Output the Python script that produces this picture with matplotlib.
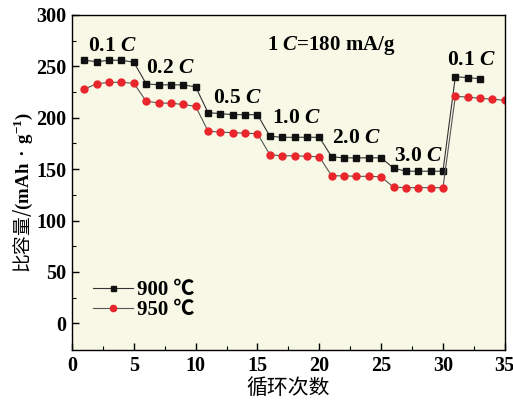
import matplotlib
matplotlib.use("Agg")
import matplotlib.pyplot as plt

plt.rcParams['mathtext.fontset'] = 'custom'
plt.rcParams['mathtext.rm'] = 'Liberation Serif:bold'
plt.rcParams['mathtext.bf'] = 'Liberation Serif:bold'
plt.rcParams['mathtext.it'] = 'Liberation Serif:bold:italic'

cycles_900 = list(range(1, 34))
cap_900 = [256, 254.5, 256, 256, 254,
           233, 232, 232, 232, 230,
           205, 204, 203, 203, 203,
           182, 181, 181, 181, 181,
           162, 161, 161, 161, 161,
           151, 148, 148, 148, 148,
           240, 239, 238]
cycles_950 = list(range(1, 36))
cap_950 = [228, 233, 234.5, 234.5, 233.5,
           216, 214.5, 214, 213, 211,
           187, 186, 185.5, 185, 184.5,
           164, 163, 163, 162.5, 162,
           143.5, 143.5, 143, 143, 142.5,
           132.5, 132, 132, 132, 132,
           221, 220, 219, 218, 217]
series_labels = ['900 ℃', '950 ℃']
rate_labels = ['0.1 $C$', '0.2 $C$', '0.5 $C$', '1.0 $C$', '2.0 $C$', '3.0 $C$', '0.1 $C$']
rate_pos = [(1.3, 270), (6.0, 248), (11.4, 219), (16.2, 200), (21.0, 180), (26.0, 163), (30.3, 256)]

serif = ['Liberation Serif', 'Noto Sans CJK SC']
fig = plt.figure(figsize=(5.13, 4.03), dpi=100)
ax = fig.add_axes([0.1404, 0.1315, 0.8436, 0.8313])
ax.set_facecolor('#f8f8e6')
fig.patch.set_facecolor('white')

ax.plot(cycles_900, cap_900, '-s', color='#333333', lw=0.8, ms=4.0,
        mfc='#111111', mec='#111111', label=series_labels[0])
ax.plot(cycles_950, cap_950, '-o', color='#555555', lw=0.8, ms=5.0,
        mfc='#e8262b', mec='#e8262b', label=series_labels[1])

ax.set_xlim(0, 35)
ax.set_ylim(-26, 300)
ax.set_xticks(range(0, 36, 5))
ax.set_yticks(range(0, 301, 50))
ax.set_xticks([2.5 + 5 * i for i in range(7)], minor=True)
ax.set_yticks([25 + 50 * i for i in range(6)], minor=True)
ax.tick_params(which='both', direction='in', top=False, right=False)
ax.tick_params(which='major', length=5, width=1, pad=4)
ax.tick_params(which='minor', length=3, width=0.8)
for lab in ax.get_xticklabels() + ax.get_yticklabels():
    lab.set_fontfamily('Liberation Serif')
    lab.set_fontweight('bold')
    lab.set_fontsize(14.5)
for s in ax.spines.values():
    s.set_linewidth(1.0)

for t, (x, y) in zip(rate_labels, rate_pos):
    ax.text(x, y, t, fontsize=15.5, ha='left', va='center',
            fontfamily='Liberation Serif', fontweight='bold')
ax.text(15.8, 270, '1 $C$=180 mA/g', fontsize=15, ha='left', va='center',
        fontfamily='Liberation Serif', fontweight='bold')

ax.set_xlabel('循环次数', fontfamily='Noto Sans CJK SC', fontsize=15, labelpad=1)
ax.set_ylabel(r'比容量/$\mathbf{(mAh}\ \bullet\ \mathbf{g^{-1})}$', fontfamily='Noto Sans CJK SC',
              fontsize=13.5)
ax.yaxis.set_label_coords(-0.085, 0.47)

leg = ax.legend(loc='center left', bbox_to_anchor=(0.0485, 0.149), frameon=False,
                prop={'family': serif, 'weight': 'bold', 'size': 15},
                handlelength=1.9, handletextpad=0.2, labelspacing=0.0,
                borderpad=0, borderaxespad=0, markerscale=0.9)

fig.savefig('out.png', dpi=100)
